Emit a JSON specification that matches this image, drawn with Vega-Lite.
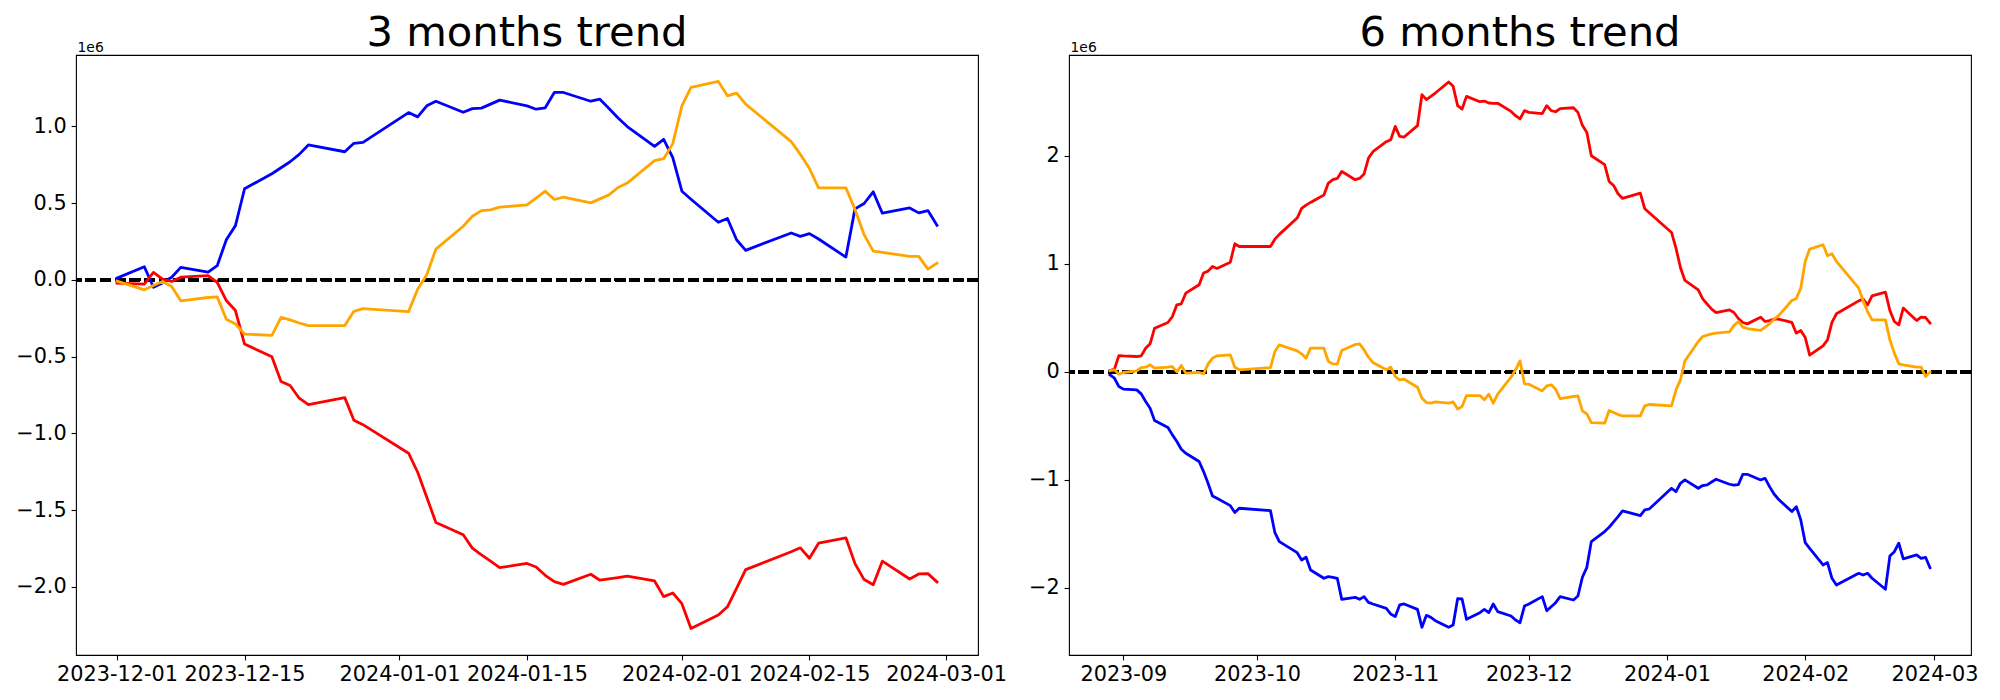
{
  "$schema": "https://vega.github.io/schema/vega-lite/v6.json",
  "autosize": {"type": "pad"},
  "padding": {"left": 15, "top": 12, "right": 5, "bottom": 5},
  "background": "white",
  "bounds": "flush",
  "spacing": 91,
  "config": {
    "font": "DejaVu Sans",
    "view": {"stroke": "black", "strokeWidth": 1.1},
    "axis": {"domain": false, "grid": false, "ticks": true, "tickColor": "black", "tickSize": 4.9, "tickWidth": 1.1, "labelFontSize": 20.8, "labelColor": "black", "labelFont": "DejaVu Sans", "labelPadding": 4.9, "labelFlush": false, "labelOverlap": false},
    "title": {"fontSize": 41.7, "font": "DejaVu Sans", "fontWeight": "normal", "color": "black", "anchor": "middle", "frame": "group", "baseline": "alphabetic", "offset": -15}
  },
  "datasets": {
    "m3": [
      {"d": "2023-12-01", "blue": 11000, "red": -22000, "orange": -8000},
      {"d": "2023-12-04", "blue": 85000, "red": -28000, "orange": -65000},
      {"d": "2023-12-05", "blue": -48000, "red": 48000, "orange": -37000},
      {"d": "2023-12-06", "blue": -20000, "red": 4000, "orange": -11000},
      {"d": "2023-12-07", "blue": 17000, "red": -11000, "orange": -44000},
      {"d": "2023-12-08", "blue": 81000, "red": 17000, "orange": -137000},
      {"d": "2023-12-11", "blue": 50000, "red": 28000, "orange": -115000},
      {"d": "2023-12-12", "blue": 92000, "red": -17000, "orange": -111000},
      {"d": "2023-12-13", "blue": 261000, "red": -135000, "orange": -257000},
      {"d": "2023-12-14", "blue": 353000, "red": -200000, "orange": -288000},
      {"d": "2023-12-15", "blue": 593000, "red": -418000, "orange": -353000},
      {"d": "2023-12-18", "blue": 691000, "red": -501000, "orange": -362000},
      {"d": "2023-12-19", "blue": 730000, "red": -662000, "orange": -244000},
      {"d": "2023-12-20", "blue": 769000, "red": -688000, "orange": -261000},
      {"d": "2023-12-21", "blue": 817000, "red": -771000, "orange": -281000},
      {"d": "2023-12-22", "blue": 878000, "red": -813000, "orange": -298000},
      {"d": "2023-12-26", "blue": 834000, "red": -767000, "orange": -298000},
      {"d": "2023-12-27", "blue": 889000, "red": -915000, "orange": -205000},
      {"d": "2023-12-28", "blue": 895000, "red": -943000, "orange": -187000},
      {"d": "2024-01-02", "blue": 1089000, "red": -1129000, "orange": -207000},
      {"d": "2024-01-03", "blue": 1061000, "red": -1253000, "orange": -61000},
      {"d": "2024-01-04", "blue": 1133000, "red": -1416000, "orange": 33000},
      {"d": "2024-01-05", "blue": 1163000, "red": -1580000, "orange": 200000},
      {"d": "2024-01-08", "blue": 1091000, "red": -1660000, "orange": 349000},
      {"d": "2024-01-09", "blue": 1115000, "red": -1747000, "orange": 414000},
      {"d": "2024-01-10", "blue": 1118000, "red": -1791000, "orange": 451000},
      {"d": "2024-01-11", "blue": 1144000, "red": -1832000, "orange": 455000},
      {"d": "2024-01-12", "blue": 1170000, "red": -1874000, "orange": 473000},
      {"d": "2024-01-15", "blue": 1133000, "red": -1847000, "orange": 488000},
      {"d": "2024-01-16", "blue": 1111000, "red": -1870000, "orange": 532000},
      {"d": "2024-01-17", "blue": 1120000, "red": -1924000, "orange": 577000},
      {"d": "2024-01-18", "blue": 1220000, "red": -1965000, "orange": 523000},
      {"d": "2024-01-19", "blue": 1220000, "red": -1983000, "orange": 538000},
      {"d": "2024-01-22", "blue": 1163000, "red": -1917000, "orange": 501000},
      {"d": "2024-01-23", "blue": 1176000, "red": -1956000, "orange": 527000},
      {"d": "2024-01-24", "blue": 1115000, "red": -1948000, "orange": 553000},
      {"d": "2024-01-25", "blue": 1054000, "red": -1939000, "orange": 601000},
      {"d": "2024-01-26", "blue": 998000, "red": -1930000, "orange": 630000},
      {"d": "2024-01-29", "blue": 869000, "red": -1961000, "orange": 776000},
      {"d": "2024-01-30", "blue": 915000, "red": -2063000, "orange": 789000},
      {"d": "2024-01-31", "blue": 795000, "red": -2039000, "orange": 887000},
      {"d": "2024-02-01", "blue": 577000, "red": -2109000, "orange": 1133000},
      {"d": "2024-02-02", "blue": 525000, "red": -2270000, "orange": 1253000},
      {"d": "2024-02-05", "blue": 375000, "red": -2183000, "orange": 1292000},
      {"d": "2024-02-06", "blue": 399000, "red": -2129000, "orange": 1198000},
      {"d": "2024-02-07", "blue": 261000, "red": -2009000, "orange": 1216000},
      {"d": "2024-02-08", "blue": 192000, "red": -1887000, "orange": 1144000},
      {"d": "2024-02-13", "blue": 305000, "red": -1771000, "orange": 900000},
      {"d": "2024-02-14", "blue": 283000, "red": -1745000, "orange": 817000},
      {"d": "2024-02-15", "blue": 301000, "red": -1813000, "orange": 725000},
      {"d": "2024-02-16", "blue": 266000, "red": -1715000, "orange": 599000},
      {"d": "2024-02-19", "blue": 148000, "red": -1680000, "orange": 599000},
      {"d": "2024-02-20", "blue": 462000, "red": -1848000, "orange": 458000},
      {"d": "2024-02-21", "blue": 497000, "red": -1952000, "orange": 294000},
      {"d": "2024-02-22", "blue": 573000, "red": -1985000, "orange": 187000},
      {"d": "2024-02-23", "blue": 434000, "red": -1832000, "orange": 179000},
      {"d": "2024-02-26", "blue": 468000, "red": -1948000, "orange": 153000},
      {"d": "2024-02-27", "blue": 436000, "red": -1915000, "orange": 153000},
      {"d": "2024-02-28", "blue": 451000, "red": -1913000, "orange": 70000},
      {"d": "2024-02-29", "blue": 355000, "red": -1967000, "orange": 109000}
    ],
    "m6": [
      {"d": "2023-08-29", "blue": -28000, "red": 12000, "orange": 12000},
      {"d": "2023-08-30", "blue": -59000, "red": 25000, "orange": 19000},
      {"d": "2023-08-31", "blue": -136000, "red": 151000, "orange": -22000},
      {"d": "2023-09-01", "blue": -160000, "red": 148000, "orange": -6000},
      {"d": "2023-09-04", "blue": -167000, "red": 142000, "orange": 9000},
      {"d": "2023-09-05", "blue": -204000, "red": 148000, "orange": 40000},
      {"d": "2023-09-06", "blue": -275000, "red": 219000, "orange": 43000},
      {"d": "2023-09-07", "blue": -336000, "red": 259000, "orange": 65000},
      {"d": "2023-09-08", "blue": -451000, "red": 404000, "orange": 34000},
      {"d": "2023-09-11", "blue": -515000, "red": 457000, "orange": 43000},
      {"d": "2023-09-12", "blue": -583000, "red": 512000, "orange": 49000},
      {"d": "2023-09-13", "blue": -645000, "red": 620000, "orange": 0},
      {"d": "2023-09-14", "blue": -716000, "red": 630000, "orange": 59000},
      {"d": "2023-09-15", "blue": -753000, "red": 728000, "orange": -12000},
      {"d": "2023-09-18", "blue": -830000, "red": 806000, "orange": -6000},
      {"d": "2023-09-19", "blue": -923000, "red": 914000, "orange": -19000},
      {"d": "2023-09-20", "blue": -1031000, "red": 932000, "orange": 71000},
      {"d": "2023-09-21", "blue": -1148000, "red": 975000, "orange": 127000},
      {"d": "2023-09-22", "blue": -1170000, "red": 957000, "orange": 148000},
      {"d": "2023-09-25", "blue": -1238000, "red": 1015000, "orange": 157000},
      {"d": "2023-09-26", "blue": -1302000, "red": 1185000, "orange": 43000},
      {"d": "2023-09-27", "blue": -1262000, "red": 1160000, "orange": 19000},
      {"d": "2023-10-04", "blue": -1284000, "red": 1160000, "orange": 40000},
      {"d": "2023-10-05", "blue": -1488000, "red": 1228000, "orange": 188000},
      {"d": "2023-10-06", "blue": -1571000, "red": 1272000, "orange": 250000},
      {"d": "2023-10-10", "blue": -1673000, "red": 1423000, "orange": 194000},
      {"d": "2023-10-11", "blue": -1741000, "red": 1512000, "orange": 167000},
      {"d": "2023-10-12", "blue": -1716000, "red": 1543000, "orange": 127000},
      {"d": "2023-10-13", "blue": -1833000, "red": 1568000, "orange": 219000},
      {"d": "2023-10-16", "blue": -1910000, "red": 1636000, "orange": 219000},
      {"d": "2023-10-17", "blue": -1895000, "red": 1747000, "orange": 96000},
      {"d": "2023-10-18", "blue": -1901000, "red": 1778000, "orange": 74000},
      {"d": "2023-10-19", "blue": -1910000, "red": 1790000, "orange": 71000},
      {"d": "2023-10-20", "blue": -2105000, "red": 1855000, "orange": 198000},
      {"d": "2023-10-23", "blue": -2086000, "red": 1778000, "orange": 253000},
      {"d": "2023-10-24", "blue": -2105000, "red": 1790000, "orange": 259000},
      {"d": "2023-10-25", "blue": -2080000, "red": 1830000, "orange": 204000},
      {"d": "2023-10-26", "blue": -2133000, "red": 1978000, "orange": 136000},
      {"d": "2023-10-27", "blue": -2148000, "red": 2037000, "orange": 86000},
      {"d": "2023-10-30", "blue": -2188000, "red": 2130000, "orange": 19000},
      {"d": "2023-10-31", "blue": -2241000, "red": 2148000, "orange": 43000},
      {"d": "2023-11-01", "blue": -2265000, "red": 2272000, "orange": -43000},
      {"d": "2023-11-02", "blue": -2157000, "red": 2179000, "orange": -74000},
      {"d": "2023-11-03", "blue": -2148000, "red": 2173000, "orange": -68000},
      {"d": "2023-11-06", "blue": -2198000, "red": 2278000, "orange": -142000},
      {"d": "2023-11-07", "blue": -2364000, "red": 2565000, "orange": -244000},
      {"d": "2023-11-08", "blue": -2253000, "red": 2519000, "orange": -284000},
      {"d": "2023-11-09", "blue": -2272000, "red": 2549000, "orange": -290000},
      {"d": "2023-11-10", "blue": -2302000, "red": 2580000, "orange": -278000},
      {"d": "2023-11-13", "blue": -2364000, "red": 2682000, "orange": -290000},
      {"d": "2023-11-14", "blue": -2343000, "red": 2642000, "orange": -278000},
      {"d": "2023-11-15", "blue": -2099000, "red": 2463000, "orange": -343000},
      {"d": "2023-11-16", "blue": -2102000, "red": 2432000, "orange": -321000},
      {"d": "2023-11-17", "blue": -2290000, "red": 2549000, "orange": -219000},
      {"d": "2023-11-20", "blue": -2228000, "red": 2500000, "orange": -219000},
      {"d": "2023-11-21", "blue": -2198000, "red": 2506000, "orange": -259000},
      {"d": "2023-11-22", "blue": -2228000, "red": 2488000, "orange": -207000},
      {"d": "2023-11-23", "blue": -2148000, "red": 2485000, "orange": -290000},
      {"d": "2023-11-24", "blue": -2219000, "red": 2485000, "orange": -207000},
      {"d": "2023-11-27", "blue": -2259000, "red": 2410000, "orange": -49000},
      {"d": "2023-11-28", "blue": -2296000, "red": 2370000, "orange": 19000},
      {"d": "2023-11-29", "blue": -2321000, "red": 2340000, "orange": 102000},
      {"d": "2023-11-30", "blue": -2167000, "red": 2417000, "orange": -111000},
      {"d": "2023-12-01", "blue": -2148000, "red": 2401000, "orange": -114000},
      {"d": "2023-12-04", "blue": -2080000, "red": 2389000, "orange": -176000},
      {"d": "2023-12-05", "blue": -2210000, "red": 2463000, "orange": -130000},
      {"d": "2023-12-06", "blue": -2173000, "red": 2417000, "orange": -120000},
      {"d": "2023-12-07", "blue": -2136000, "red": 2407000, "orange": -160000},
      {"d": "2023-12-08", "blue": -2080000, "red": 2435000, "orange": -247000},
      {"d": "2023-12-11", "blue": -2111000, "red": 2444000, "orange": -228000},
      {"d": "2023-12-12", "blue": -2074000, "red": 2401000, "orange": -222000},
      {"d": "2023-12-13", "blue": -1901000, "red": 2281000, "orange": -361000},
      {"d": "2023-12-14", "blue": -1809000, "red": 2216000, "orange": -389000},
      {"d": "2023-12-15", "blue": -1571000, "red": 2000000, "orange": -469000},
      {"d": "2023-12-18", "blue": -1478000, "red": 1917000, "orange": -475000},
      {"d": "2023-12-19", "blue": -1438000, "red": 1762000, "orange": -358000},
      {"d": "2023-12-20", "blue": -1389000, "red": 1725000, "orange": -377000},
      {"d": "2023-12-21", "blue": -1340000, "red": 1648000, "orange": -395000},
      {"d": "2023-12-22", "blue": -1287000, "red": 1605000, "orange": -407000},
      {"d": "2023-12-26", "blue": -1330000, "red": 1654000, "orange": -407000},
      {"d": "2023-12-27", "blue": -1278000, "red": 1509000, "orange": -315000},
      {"d": "2023-12-28", "blue": -1269000, "red": 1472000, "orange": -302000},
      {"d": "2024-01-02", "blue": -1077000, "red": 1290000, "orange": -315000},
      {"d": "2024-01-03", "blue": -1108000, "red": 1145000, "orange": -167000},
      {"d": "2024-01-04", "blue": -1031000, "red": 966000, "orange": -74000},
      {"d": "2024-01-05", "blue": -1000000, "red": 846000, "orange": 100000},
      {"d": "2024-01-08", "blue": -1077000, "red": 759000, "orange": 281000},
      {"d": "2024-01-09", "blue": -1052000, "red": 676000, "orange": 327000},
      {"d": "2024-01-10", "blue": -1046000, "red": 627000, "orange": 340000},
      {"d": "2024-01-11", "blue": -1019000, "red": 580000, "orange": 352000},
      {"d": "2024-01-12", "blue": -994000, "red": 549000, "orange": 358000},
      {"d": "2024-01-15", "blue": -1040000, "red": 574000, "orange": 370000},
      {"d": "2024-01-16", "blue": -1049000, "red": 549000, "orange": 429000},
      {"d": "2024-01-17", "blue": -1043000, "red": 494000, "orange": 466000},
      {"d": "2024-01-18", "blue": -948000, "red": 457000, "orange": 414000},
      {"d": "2024-01-19", "blue": -948000, "red": 444000, "orange": 401000},
      {"d": "2024-01-22", "blue": -1000000, "red": 506000, "orange": 383000},
      {"d": "2024-01-23", "blue": -985000, "red": 466000, "orange": 414000},
      {"d": "2024-01-24", "blue": -1062000, "red": 475000, "orange": 444000},
      {"d": "2024-01-25", "blue": -1130000, "red": 488000, "orange": 488000},
      {"d": "2024-01-26", "blue": -1179000, "red": 488000, "orange": 519000},
      {"d": "2024-01-29", "blue": -1293000, "red": 457000, "orange": 660000},
      {"d": "2024-01-30", "blue": -1247000, "red": 358000, "orange": 679000},
      {"d": "2024-01-31", "blue": -1370000, "red": 383000, "orange": 775000},
      {"d": "2024-02-01", "blue": -1580000, "red": 318000, "orange": 1022000},
      {"d": "2024-02-02", "blue": -1633000, "red": 154000, "orange": 1136000},
      {"d": "2024-02-05", "blue": -1787000, "red": 241000, "orange": 1176000},
      {"d": "2024-02-06", "blue": -1765000, "red": 296000, "orange": 1074000},
      {"d": "2024-02-07", "blue": -1910000, "red": 457000, "orange": 1093000},
      {"d": "2024-02-08", "blue": -1972000, "red": 537000, "orange": 1022000},
      {"d": "2024-02-13", "blue": -1864000, "red": 657000, "orange": 775000},
      {"d": "2024-02-14", "blue": -1880000, "red": 673000, "orange": 657000},
      {"d": "2024-02-15", "blue": -1864000, "red": 620000, "orange": 556000},
      {"d": "2024-02-16", "blue": -1910000, "red": 704000, "orange": 481000},
      {"d": "2024-02-19", "blue": -2012000, "red": 738000, "orange": 481000},
      {"d": "2024-02-20", "blue": -1704000, "red": 568000, "orange": 296000},
      {"d": "2024-02-21", "blue": -1664000, "red": 466000, "orange": 173000},
      {"d": "2024-02-22", "blue": -1586000, "red": 435000, "orange": 74000},
      {"d": "2024-02-23", "blue": -1731000, "red": 590000, "orange": 65000},
      {"d": "2024-02-26", "blue": -1694000, "red": 475000, "orange": 43000},
      {"d": "2024-02-27", "blue": -1725000, "red": 506000, "orange": 43000},
      {"d": "2024-02-28", "blue": -1716000, "red": 503000, "orange": -43000},
      {"d": "2024-02-29", "blue": -1812000, "red": 451000, "orange": 0}
    ]
  },
  "hconcat": [
    {
      "title": {"text": "3 months trend"},
      "width": 902,
      "height": 600,
      "data": {"name": "m3"},
      "transform": [{"fold": ["blue", "red", "orange"], "as": ["series", "value"]}],
      "layer": [
        {
          "mark": {"type": "rule", "color": "black", "strokeWidth": 2.8, "strokeDash": [10.3, 4.4]},
          "encoding": {"y": {"datum": 0, "type": "quantitative"}}
        },
        {
          "mark": {"type": "line", "strokeWidth": 2.8, "strokeJoin": "round", "strokeCap": "square", "clip": true},
          "encoding": {
            "x": {
              "field": "d", "type": "temporal",
              "scale": {"type": "utc", "domain": [{"year": 2023, "month": 11, "date": 26, "hours": 12, "utc": true}, {"year": 2024, "month": 3, "date": 4, "hours": 12, "utc": true}]},
              "axis": {"title": null, "values": [
                {"year": 2023, "month": 12, "date": 1, "utc": true},
                {"year": 2023, "month": 12, "date": 15, "utc": true},
                {"year": 2024, "month": 1, "date": 1, "utc": true},
                {"year": 2024, "month": 1, "date": 15, "utc": true},
                {"year": 2024, "month": 2, "date": 1, "utc": true},
                {"year": 2024, "month": 2, "date": 15, "utc": true},
                {"year": 2024, "month": 3, "date": 1, "utc": true}
              ], "labelExpr": "utcFormat(datum.value, '%Y-%m-%d')"}
            },
            "y": {
              "field": "value", "type": "quantitative",
              "scale": {"domain": [-2443000, 1464000], "nice": false, "zero": false},
              "axis": {"title": "1e6", "values": [-2000000, -1500000, -1000000, -500000, 0, 500000, 1000000],
                "labelExpr": "format(datum.value / 1000000, '.1f')",
                "titleAngle": 0, "titleAlign": "left", "titleBaseline": "alphabetic", "titleX": 1, "titleY": -4,
                "titleFontSize": 13.9, "titleFontWeight": "normal", "titleColor": "black", "titleFont": "DejaVu Sans"}
            },
            "color": {"field": "series", "type": "nominal", "sort": ["blue", "red", "orange"],
              "scale": {"domain": ["blue", "red", "orange"], "range": ["#0000ff", "#ff0000", "#ffa500"]}, "legend": null}
          }
        }
      ]
    },
    {
      "title": {"text": "6 months trend"},
      "width": 902,
      "height": 600,
      "data": {"name": "m6"},
      "transform": [{"fold": ["blue", "red", "orange"], "as": ["series", "value"]}],
      "layer": [
        {
          "mark": {"type": "rule", "color": "black", "strokeWidth": 2.8, "strokeDash": [10.3, 4.4]},
          "encoding": {"y": {"datum": 0, "type": "quantitative"}}
        },
        {
          "mark": {"type": "line", "strokeWidth": 2.8, "strokeJoin": "round", "strokeCap": "square", "clip": true},
          "encoding": {
            "x": {
              "field": "d", "type": "temporal",
              "scale": {"type": "utc", "domain": [{"year": 2023, "month": 8, "date": 19, "hours": 19, "minutes": 12, "utc": true}, {"year": 2024, "month": 3, "date": 9, "hours": 4, "minutes": 48, "utc": true}]},
              "axis": {"title": null, "values": [
                {"year": 2023, "month": 9, "date": 1, "utc": true},
                {"year": 2023, "month": 10, "date": 1, "utc": true},
                {"year": 2023, "month": 11, "date": 1, "utc": true},
                {"year": 2023, "month": 12, "date": 1, "utc": true},
                {"year": 2024, "month": 1, "date": 1, "utc": true},
                {"year": 2024, "month": 2, "date": 1, "utc": true},
                {"year": 2024, "month": 3, "date": 1, "utc": true}
              ], "labelExpr": "utcFormat(datum.value, '%Y-%m')"}
            },
            "y": {
              "field": "value", "type": "quantitative",
              "scale": {"domain": [-2620000, 2932000], "nice": false, "zero": false},
              "axis": {"title": "1e6", "values": [-2000000, -1000000, 0, 1000000, 2000000],
                "labelExpr": "format(datum.value / 1000000, '.0f')",
                "titleAngle": 0, "titleAlign": "left", "titleBaseline": "alphabetic", "titleX": 1, "titleY": -4,
                "titleFontSize": 13.9, "titleFontWeight": "normal", "titleColor": "black", "titleFont": "DejaVu Sans"}
            },
            "color": {"field": "series", "type": "nominal", "sort": ["blue", "red", "orange"],
              "scale": {"domain": ["blue", "red", "orange"], "range": ["#0000ff", "#ff0000", "#ffa500"]}, "legend": null}
          }
        }
      ]
    }
  ],
  "resolve": {"scale": {"color": "independent"}}
}
